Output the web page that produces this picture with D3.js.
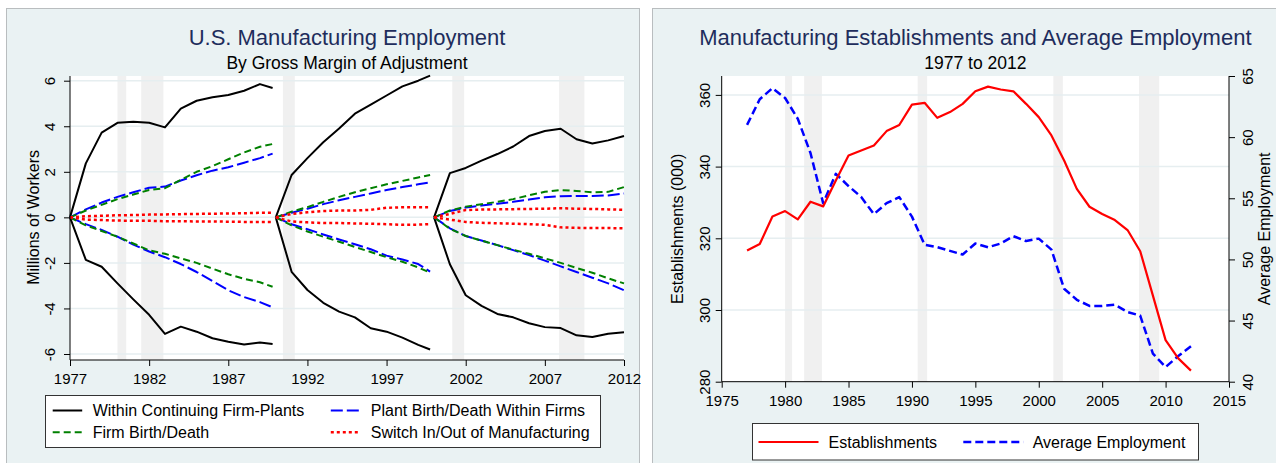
<!DOCTYPE html>
<html>
<head>
<meta charset="utf-8">
<script src="https://cdn.jsdelivr.net/npm/d3@7"></script>
<style>
    body { margin: 0; background: #fff; }
    svg { display: block; font-family: "Liberation Sans", Arial, sans-serif; }
</style>
</head>
<body>
<svg width="1276" height="463"></svg>
<script>
// recession shading (start year, end year)
var recessions = [[1980.0, 1980.55], [1981.5, 1982.9], [1990.45, 1991.2], [2001.15, 2001.9], [2007.9, 2009.5]];

// left chart: three cumulative windows
var yearsA = [1977, 1978, 1979, 1980, 1981, 1982, 1983, 1984, 1985, 1986, 1987, 1988, 1989, 1989.8];
var yearsB = [1990, 1991, 1992, 1993, 1994, 1995, 1996, 1997, 1998, 1999, 1999.75];
var yearsC = [2000, 2001, 2002, 2003, 2004, 2005, 2006, 2007, 2008, 2009, 2010, 2011, 2012];

var withinUp = [
    [0, 2.37, 3.72, 4.15, 4.2, 4.15, 3.95, 4.77, 5.12, 5.27, 5.37, 5.56, 5.85, 5.68],
    [0, 1.86, 2.6, 3.3, 3.9, 4.55, 4.95, 5.35, 5.75, 6.0, 6.22],
    [0, 1.94, 2.17, 2.49, 2.78, 3.11, 3.57, 3.79, 3.89, 3.43, 3.24, 3.38, 3.57]
];
var withinDown = [
    [0, -1.87, -2.17, -2.9, -3.6, -4.28, -5.12, -4.8, -5.02, -5.31, -5.46, -5.58, -5.5, -5.56],
    [0, -2.39, -3.19, -3.75, -4.14, -4.39, -4.87, -5.02, -5.28, -5.6, -5.8],
    [0, -2.06, -3.42, -3.89, -4.24, -4.39, -4.65, -4.82, -4.86, -5.18, -5.25, -5.11, -5.05]
];
var plantUp = [
    [0, 0.35, 0.65, 0.9, 1.1, 1.3, 1.35, 1.62, 1.85, 2.05, 2.2, 2.4, 2.6, 2.8],
    [0, 0.2, 0.38, 0.58, 0.75, 0.9, 1.05, 1.2, 1.33, 1.45, 1.54],
    [0, 0.28, 0.43, 0.52, 0.6, 0.68, 0.78, 0.88, 0.93, 0.94, 0.94, 0.96, 1.05]
];
var plantDown = [
    [0, -0.3, -0.55, -0.85, -1.2, -1.5, -1.75, -2.05, -2.4, -2.8, -3.2, -3.5, -3.72, -3.95],
    [0, -0.3, -0.52, -0.75, -0.97, -1.18, -1.4, -1.68, -1.85, -2.05, -2.38],
    [0, -0.48, -0.82, -1.02, -1.22, -1.44, -1.66, -1.9, -2.15, -2.4, -2.65, -2.9, -3.2]
];
var firmUp = [
    [0, 0.3, 0.55, 0.8, 1.0, 1.2, 1.28, 1.65, 2.0, 2.25, 2.55, 2.85, 3.1, 3.22],
    [0, 0.25, 0.45, 0.68, 0.9, 1.1, 1.28, 1.45, 1.6, 1.75, 1.86],
    [0, 0.3, 0.47, 0.58, 0.68, 0.8, 0.97, 1.12, 1.2, 1.16, 1.1, 1.12, 1.33]
];
var firmDown = [
    [0, -0.35, -0.6, -0.85, -1.15, -1.45, -1.6, -1.8, -2.0, -2.25, -2.5, -2.7, -2.85, -3.05],
    [0, -0.35, -0.62, -0.85, -1.07, -1.3, -1.52, -1.75, -1.95, -2.2, -2.43],
    [0, -0.5, -0.82, -1.02, -1.22, -1.42, -1.6, -1.8, -2.0, -2.22, -2.43, -2.68, -2.9]
];
var switchUp = [
    [0, 0.05, 0.07, 0.09, 0.1, 0.12, 0.13, 0.14, 0.15, 0.16, 0.17, 0.18, 0.2, 0.2],
    [0, 0.15, 0.22, 0.28, 0.3, 0.3, 0.33, 0.42, 0.44, 0.44, 0.44],
    [0, 0.15, 0.32, 0.34, 0.35, 0.36, 0.37, 0.38, 0.4, 0.38, 0.37, 0.35, 0.33]
];
var switchDown = [
    [0, -0.1, -0.12, -0.14, -0.15, -0.15, -0.17, -0.17, -0.18, -0.18, -0.19, -0.2, -0.2, -0.2],
    [0, -0.18, -0.22, -0.25, -0.25, -0.27, -0.28, -0.3, -0.33, -0.32, -0.3],
    [0, -0.1, -0.2, -0.24, -0.26, -0.28, -0.3, -0.33, -0.44, -0.46, -0.47, -0.47, -0.48]
];
var leftTicksX = [1977, 1982, 1987, 1992, 1997, 2002, 2007, 2012];
var leftTicksY = [-6, -4, -2, 0, 2, 4, 6];

// right chart
var estYears = d3.range(1977, 2013);
var establishments = [316.6, 318.4, 326.1, 327.6, 325.3, 330.2, 328.9, 336.1, 343.1, 344.5,
    345.9, 349.9, 351.6, 357.3, 357.8, 353.6, 355.2, 357.5, 361.0, 362.3,
    361.5, 361.0, 357.5, 353.8, 348.7, 341.7, 333.8, 328.8, 326.8, 325.1,
    322.3, 316.4, 304.0, 291.6, 286.5, 283.1];
var avgEmployment = [61.0, 63.1, 64.0, 63.2, 61.5, 58.7, 54.6, 57.0, 56.0, 55.1,
    53.7, 54.6, 55.1, 53.5, 51.2, 51.0, 50.7, 50.4, 51.3, 51.0,
    51.3, 51.9, 51.5, 51.7, 50.8, 47.6, 46.7, 46.2, 46.2, 46.3,
    45.7, 45.4, 42.3, 41.2, 42.1, 42.9];
var rightTicksX = [1975, 1980, 1985, 1990, 1995, 2000, 2005, 2010, 2015];
var rightTicksL = [280, 300, 320, 340, 360];
var rightTicksR = [40, 45, 50, 55, 60, 65];

////////////////////////////////////////////////////////////////////////////

var svg = d3.select("svg"),
    panelFill = "#eaf2f3",
    gridColor = "#e6eef0",
    shadeColor = "#f0f0f0",
    titleColor = "#1e2d5c";

// plain hyphen minus, like the original
var plainFormat = function (d) { return String(d); };

var leftSeries = [
    {name: "Within Continuing Firm-Plants", color: "#000", dash: null, width: 2, up: withinUp, down: withinDown},
    {name: "Plant Birth/Death Within Firms", color: "#0000ff", dash: "12,4", width: 2, up: plantUp, down: plantDown},
    {name: "Firm Birth/Death", color: "#008000", dash: "7,4", width: 2, up: firmUp, down: firmDown},
    {name: "Switch In/Out of Manufacturing", color: "#ff0000", dash: "3,3", width: 2.5, up: switchUp, down: switchDown}
];

// panels
svg.append("rect").attr("x", 6.5).attr("y", 8.5).attr("width", 633).attr("height", 470)
    .attr("fill", panelFill).attr("stroke", "#b9bdbf");
svg.append("rect").attr("x", 652.5).attr("y", 8.5).attr("width", 640).attr("height", 470)
    .attr("fill", panelFill).attr("stroke", "#b9bdbf");

function addTitle(cx, title, subtitle) {
    svg.append("text").attr("x", cx).attr("y", 45).attr("text-anchor", "middle")
        .style("font-size", "22px").attr("fill", titleColor).text(title);
    svg.append("text").attr("x", cx).attr("y", 68.5).attr("text-anchor", "middle")
        .style("font-size", "17.5px").attr("fill", "#000").text(subtitle);
}

function drawShading(g, scaleX, top, bottom) {
    g.selectAll(".rec").data(recessions).enter().append("rect")
        .attr("class", "rec")
        .attr("x", function (d) { return scaleX(d[0]); })
        .attr("width", function (d) { return scaleX(d[1]) - scaleX(d[0]); })
        .attr("y", top).attr("height", bottom - top)
        .attr("fill", shadeColor);
}

function drawGrid(g, ticks, scaleY, x0, x1) {
    g.selectAll(".grid").data(ticks).enter().append("line")
        .attr("class", "grid")
        .attr("x1", x0).attr("x2", x1)
        .attr("y1", function (d) { return scaleY(d); })
        .attr("y2", function (d) { return scaleY(d); })
        .attr("stroke", gridColor).attr("stroke-width", 1.5);
}

function styleAxis(axisG) {
    axisG.select(".domain").remove();
    axisG.selectAll("line").attr("stroke", "#000");
    axisG.selectAll("text").style("font-size", "15px").attr("fill", "#000")
        .style("font-family", "\"Liberation Sans\", Arial, sans-serif");
}

function rotateLabels(axisG, offset) {
    axisG.selectAll("text")
        .attr("x", null).attr("dy", null)
        .attr("text-anchor", "middle")
        .attr("transform", "translate(" + offset + ",0) rotate(-90)");
}

function legendSwatch(g, x0, x1, y, color, dash, width) {
    g.append("line").attr("x1", x0).attr("x2", x1).attr("y1", y).attr("y2", y)
        .attr("stroke", color).attr("stroke-width", width)
        .attr("stroke-dasharray", dash);
}

////////////////////////////////////////////////////////////////////////////
// left chart
(function () {
    var left = 70, right = 624, top = 76, bottom = 360;
    var scaleX = d3.scaleLinear().domain([1977, 2012]).range([left, right]),
        scaleY = d3.scaleLinear().domain([-6, 6]).range([354, 80.7]);
    var g = svg.append("g");
    var yearSets = [yearsA, yearsB, yearsC];

    g.append("rect").attr("x", left).attr("y", top).attr("width", right - left).attr("height", bottom - top)
        .attr("fill", "#fff");
    drawShading(g, scaleX, top, bottom);
    drawGrid(g, leftTicksY, scaleY, left, right);

    var line = d3.line()
        .x(function (d) { return scaleX(d.year); })
        .y(function (d) { return scaleY(d.value); });

    leftSeries.forEach(function (s) {
        [s.up, s.down].forEach(function (parts) {
            parts.forEach(function (vals, i) {
                var pts = vals.map(function (v, j) { return {year: yearSets[i][j], value: v}; });
                g.append("path").datum(pts)
                    .attr("d", line)
                    .attr("fill", "none")
                    .attr("stroke", s.color)
                    .attr("stroke-width", s.width)
                    .attr("stroke-dasharray", s.dash)
                    .attr("stroke-linejoin", "round");
            });
        });
    });

    g.append("line").attr("x1", left).attr("x2", left).attr("y1", top).attr("y2", bottom)
        .attr("stroke", "#000");
    g.append("line").attr("x1", left).attr("x2", right).attr("y1", bottom).attr("y2", bottom)
        .attr("stroke", "#000");

    var axisX = g.append("g").attr("transform", "translate(0," + bottom + ")")
        .call(d3.axisBottom(scaleX).tickValues(leftTicksX).tickFormat(plainFormat).tickSize(6).tickPadding(7));
    styleAxis(axisX);

    var axisY = g.append("g").attr("transform", "translate(" + left + ",0)")
        .call(d3.axisLeft(scaleY).tickValues(leftTicksY).tickFormat(plainFormat).tickSize(6));
    styleAxis(axisY);
    rotateLabels(axisY, -15);

    g.append("text").attr("transform", "translate(38.5," + scaleY(0) + ") rotate(-90)")
        .attr("text-anchor", "middle").style("font-size", "16px").text("Millions of Workers");

    addTitle((left + right) / 2, "U.S. Manufacturing Employment", "By Gross Margin of Adjustment");

    // legend
    var lg = svg.append("g");
    lg.append("rect").attr("x", 45.5).attr("y", 395.5).attr("width", 555).attr("height", 52)
        .attr("fill", "#fff").attr("stroke", "#333");
    var slots = [
        {s: leftSeries[0], x: 52.7, y: 416},
        {s: leftSeries[1], x: 330.8, y: 416},
        {s: leftSeries[2], x: 52.7, y: 437.7},
        {s: leftSeries[3], x: 330.8, y: 437.7}
    ];
    slots.forEach(function (d) {
        legendSwatch(lg, d.x, d.x + 29.5, d.y - 5.5, d.s.color, d.s.dash, d.s.width);
        lg.append("text").attr("x", d.x + 40).attr("y", d.y)
            .style("font-size", "16px").text(d.s.name);
    });
})();

////////////////////////////////////////////////////////////////////////////
// right chart
(function () {
    var left = 721.7, right = 1229, top = 76, bottom = 381.7;
    var scaleX = d3.scaleLinear().domain([1975, 2015]).range([left, right]),
        scaleYL = d3.scaleLinear().domain([280, 360]).range([bottom, 94.9]),
        scaleYR = d3.scaleLinear().domain([40, 65]).range([bottom, top]);
    var g = svg.append("g");

    g.append("rect").attr("x", left).attr("y", top).attr("width", right - left).attr("height", bottom - top)
        .attr("fill", "#fff");
    drawShading(g, scaleX, top, bottom);
    drawGrid(g, rightTicksL.slice(1), scaleYL, left, right);

    var estLine = d3.line()
        .x(function (d, i) { return scaleX(estYears[i]); })
        .y(function (d) { return scaleYL(d); });
    var empLine = d3.line()
        .x(function (d, i) { return scaleX(estYears[i]); })
        .y(function (d) { return scaleYR(d); });

    g.append("path").datum(avgEmployment).attr("d", empLine)
        .attr("fill", "none").attr("stroke", "#0000ff").attr("stroke-width", 2.5)
        .attr("stroke-dasharray", "8,4").attr("stroke-linejoin", "round");
    g.append("path").datum(establishments).attr("d", estLine)
        .attr("fill", "none").attr("stroke", "#ff0000").attr("stroke-width", 2.2)
        .attr("stroke-linejoin", "round");

    [left, right].forEach(function (x) {
        g.append("line").attr("x1", x).attr("x2", x).attr("y1", top).attr("y2", bottom).attr("stroke", "#000");
    });
    g.append("line").attr("x1", left).attr("x2", right).attr("y1", bottom).attr("y2", bottom)
        .attr("stroke", "#000");

    var axisX = g.append("g").attr("transform", "translate(0," + bottom + ")")
        .call(d3.axisBottom(scaleX).tickValues(rightTicksX).tickFormat(plainFormat).tickSize(6).tickPadding(8));
    styleAxis(axisX);

    var axisL = g.append("g").attr("transform", "translate(" + left + ",0)")
        .call(d3.axisLeft(scaleYL).tickValues(rightTicksL).tickFormat(plainFormat).tickSize(6));
    styleAxis(axisL);
    rotateLabels(axisL, -12);

    var axisR = g.append("g").attr("transform", "translate(" + right + ",0)")
        .call(d3.axisRight(scaleYR).tickValues(rightTicksR).tickFormat(plainFormat).tickSize(6));
    styleAxis(axisR);
    rotateLabels(axisR, 24);

    g.append("text").attr("transform", "translate(683," + (top + bottom) / 2 + ") rotate(-90)")
        .attr("text-anchor", "middle").style("font-size", "16px").text("Establishments (000)");
    g.append("text").attr("transform", "translate(1269.5," + (top + bottom) / 2 + ") rotate(-90)")
        .attr("text-anchor", "middle").style("font-size", "16px").text("Average Employment");

    addTitle((left + right) / 2, "Manufacturing Establishments and Average Employment", "1977 to 2012");

    // legend
    var lg = svg.append("g");
    lg.append("rect").attr("x", 752.5).attr("y", 423.5).attr("width", 446).attr("height", 36.5)
        .attr("fill", "#fff").attr("stroke", "#333");
    legendSwatch(lg, 758.5, 818.5, 442, "#ff0000", null, 2.2);
    lg.append("text").attr("x", 828.6).attr("y", 448).style("font-size", "16px").text("Establishments");
    legendSwatch(lg, 963.3, 1023.4, 442, "#0000ff", "8,4", 2.5);
    lg.append("text").attr("x", 1032.7).attr("y", 448).style("font-size", "16px").text("Average Employment");
})();
</script>
</body>
</html>
